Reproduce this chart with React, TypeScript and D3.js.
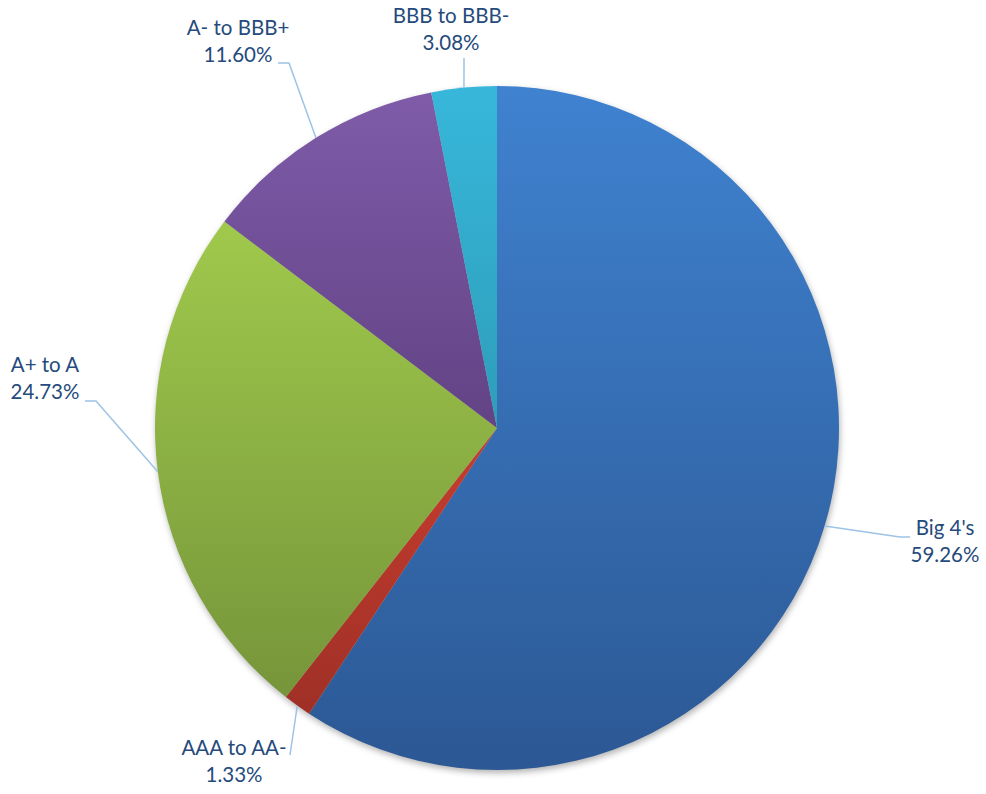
import React from "react";
import * as d3 from "d3";

const categories = ["Big 4's", "AAA to AA-", "A+ to A", "A- to BBB+", "BBB to BBB-"];
const values = [59.26, 1.33, 24.73, 11.6, 3.08];
const valueLabels = ["59.26%", "1.33%", "24.73%", "11.60%", "3.08%"];

const gradTop = ["#3f82d0", "#c83d2f", "#a0c94c", "#7f5ba9", "#37b7da"];
const gradBottom = ["#2c5894", "#9f3026", "#76953a", "#624384", "#2e9dba"];

// label layout: text center x, first line y, leader elbow points
const labelLayout = [
  { x: 945, y: 530, elbow: [[900, 537], [910, 537]] },
  { x: 234, y: 750, elbow: [[290, 755]] },
  { x: 45, y: 367, elbow: [[96, 401], [85, 401]] },
  { x: 238, y: 30, elbow: [[289, 63], [278, 63]] },
  { x: 451, y: 18, elbow: [[464, 58]] },
];

export default function App() {
  const W = 986, H = 794;
  const cx = 497, cy = 428, r = 342;
  const pie = d3.pie<number>().sort(null).value((d) => d);
  const arcs = pie(values);
  const arc = d3.arc<d3.PieArcDatum<number>>().innerRadius(0).outerRadius(r);

  return (
    <svg width={W} height={H} style={{ position: "absolute", left: 0, top: 0, background: "#fff" }}
      fontFamily="Lato, 'Open Sans', sans-serif">
      <defs>
        {categories.map((c, i) => (
          <linearGradient key={c} id={`g${i}`} x1={0} y1={0} x2={0} y2={1}>
            <stop offset="0" stopColor={gradTop[i]} />
            <stop offset="1" stopColor={gradBottom[i]} />
          </linearGradient>
        ))}
        <filter id="shadow" x="-10%" y="-10%" width="120%" height="120%" colorInterpolationFilters="sRGB">
          <feDropShadow dx="1" dy="3" stdDeviation="3" floodColor="#000" floodOpacity="0.3" />
        </filter>
      </defs>
      <g transform={`translate(${cx},${cy})`} filter="url(#shadow)">
        {arcs.map((a, i) => (
          <path key={i} d={arc(a) || ""} fill={`url(#g${i})`} />
        ))}
      </g>
      {arcs.map((a, i) => {
        const mid = (a.startAngle + a.endAngle) / 2;
        const sx = cx + Math.sin(mid) * r;
        const sy = cy - Math.cos(mid) * r;
        const L = labelLayout[i];
        const pts = [[sx, sy], ...L.elbow];
        return (
          <g key={`l${i}`}>
            <polyline points={pts.map((p) => p.join(",")).join(" ")} fill="none" stroke="#9dc3e6" strokeWidth={1.5} />
            <text x={L.x} y={L.y} textAnchor="middle" dominantBaseline="middle" fontSize={20.5} fill="#254a7c">
              {categories[i]}
            </text>
            <text x={L.x} y={L.y + 27} textAnchor="middle" dominantBaseline="middle" fontSize={20.5} fill="#254a7c">
              {valueLabels[i]}
            </text>
          </g>
        );
      })}
    </svg>
  );
}
